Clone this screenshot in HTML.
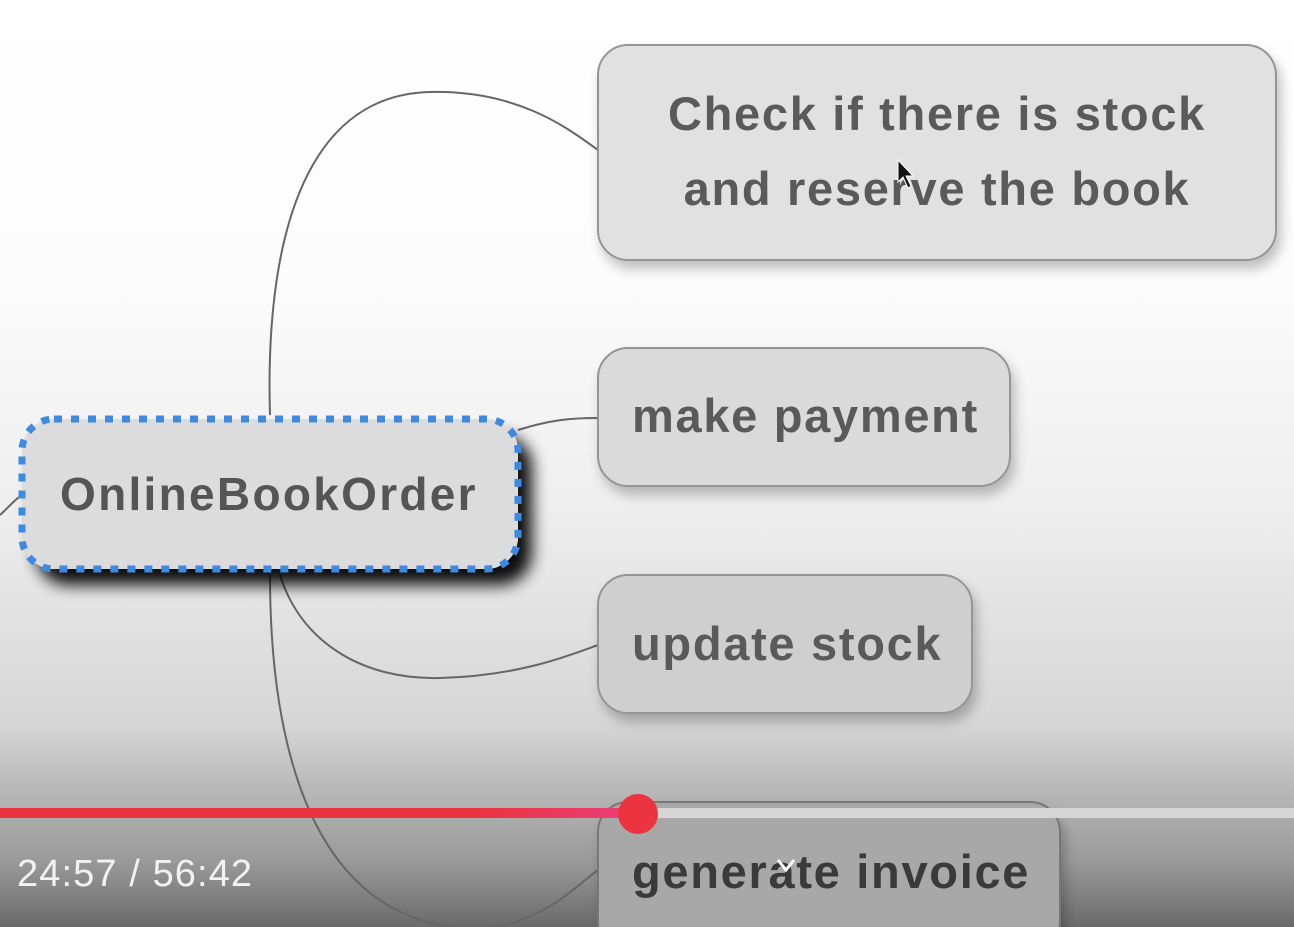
<!DOCTYPE html>
<html><head><meta charset="utf-8"><style>
html,body{margin:0;padding:0;width:1294px;height:927px;overflow:hidden;}
svg{display:block}
text{font-family:"Liberation Sans",sans-serif;font-weight:bold;}
</style></head><body>
<svg width="1294" height="927" viewBox="0 0 1294 927">
<defs>
<linearGradient id="bg" x1="0" y1="0" x2="0" y2="1">
<stop offset="0" stop-color="#ffffff"/>
<stop offset="0.3" stop-color="#fcfcfc"/>
<stop offset="0.55" stop-color="#eeeeee"/>
<stop offset="0.78" stop-color="#d6d6d6"/>
<stop offset="0.86" stop-color="#b5b5b5"/>
<stop offset="0.93" stop-color="#999999"/>
<stop offset="1" stop-color="#6a6a6a"/>
</linearGradient>
<linearGradient id="pg" x1="0" y1="0" x2="1" y2="0">
<stop offset="0" stop-color="#ec3340"/>
<stop offset="0.75" stop-color="#ec3340"/>
<stop offset="1" stop-color="#e8407a"/>
</linearGradient>
<filter id="sh" x="-10%" y="-10%" width="130%" height="140%"><feGaussianBlur in="SourceAlpha" stdDeviation="6"/><feOffset dx="4" dy="8"/><feComponentTransfer><feFuncA type="linear" slope="0.25"/></feComponentTransfer><feMerge><feMergeNode/><feMergeNode in="SourceGraphic"/></feMerge></filter>
<filter id="sh2" x="-10%" y="-10%" width="130%" height="150%"><feGaussianBlur in="SourceAlpha" stdDeviation="8"/><feOffset dx="14" dy="16"/><feComponentTransfer><feFuncA type="linear" slope="0.95"/></feComponentTransfer><feMerge><feMergeNode/><feMergeNode in="SourceGraphic"/></feMerge></filter>
</defs>
<rect width="1294" height="927" fill="url(#bg)"/>
<g fill="none" stroke="#666" stroke-width="2">
<path d="M270 415 C265 250 300 95 430 92 C520 90 570 130 598 150"/>
<path d="M518 430 C550 420 570 418 598 418"/>
<path d="M280 575 C300 640 360 680 440 678 C520 676 570 655 598 645"/>
<path d="M270 575 C270 720 300 880 420 920 C520 950 570 890 598 870"/>
<path d="M0 515 C8 508 14 500 22 495"/>
</g>
<g filter="url(#sh)" fill="#e1e1e1" stroke="#959595" stroke-width="2">
<rect x="598" y="45" width="678" height="215" rx="30"/>
<rect x="598" y="348" width="412" height="138" rx="30" fill="#dadada"/>
<rect x="598" y="575" width="374" height="138" rx="30" fill="#cfcfcf"/>
<rect x="598" y="802" width="462" height="150" rx="30" fill="#a8a8a8" stroke="#777"/>
</g>
<g fill="#5a5a5a" font-size="47" letter-spacing="1.7">
<text x="937" y="130" text-anchor="middle">Check if there is stock</text>
<text x="937" y="205" text-anchor="middle">and reserve the book</text>
<text x="632" y="432">make payment</text>
<text x="632" y="660">update stock</text>
<text x="632" y="888" fill="#3a3a3a">generate invoice</text>
</g>
<g filter="url(#sh2)">
<rect x="22" y="419" width="496" height="150" rx="32" fill="#dcdcdc"/>
</g>
<rect x="22" y="419" width="496" height="150" rx="32" fill="#dcdcdc" stroke="#3d8ae0" stroke-width="7" stroke-dasharray="8 9"/>
<text x="60" y="510" font-size="46" fill="#555" letter-spacing="2.3">OnlineBookOrder</text>
<path d="M898 160 L898 182 L903 177 L908 188 L911 186 L906 176 L913 176 Z" fill="#111" stroke="#fff" stroke-width="1"/>
<rect x="0" y="808" width="1294" height="10" fill="#d6d6d6"/>
<rect x="0" y="808" width="638" height="10" fill="url(#pg)"/>
<circle cx="638" cy="814" r="20" fill="#ec3340"/>
<text x="17" y="886" font-size="38" fill="#f2f2f2" letter-spacing="1.1" style="font-weight:normal">24:57 / 56:42</text>
<path d="M778 860 L786 870 L794 860" fill="none" stroke="#fff" stroke-width="3"/>
</svg>
</body></html>
